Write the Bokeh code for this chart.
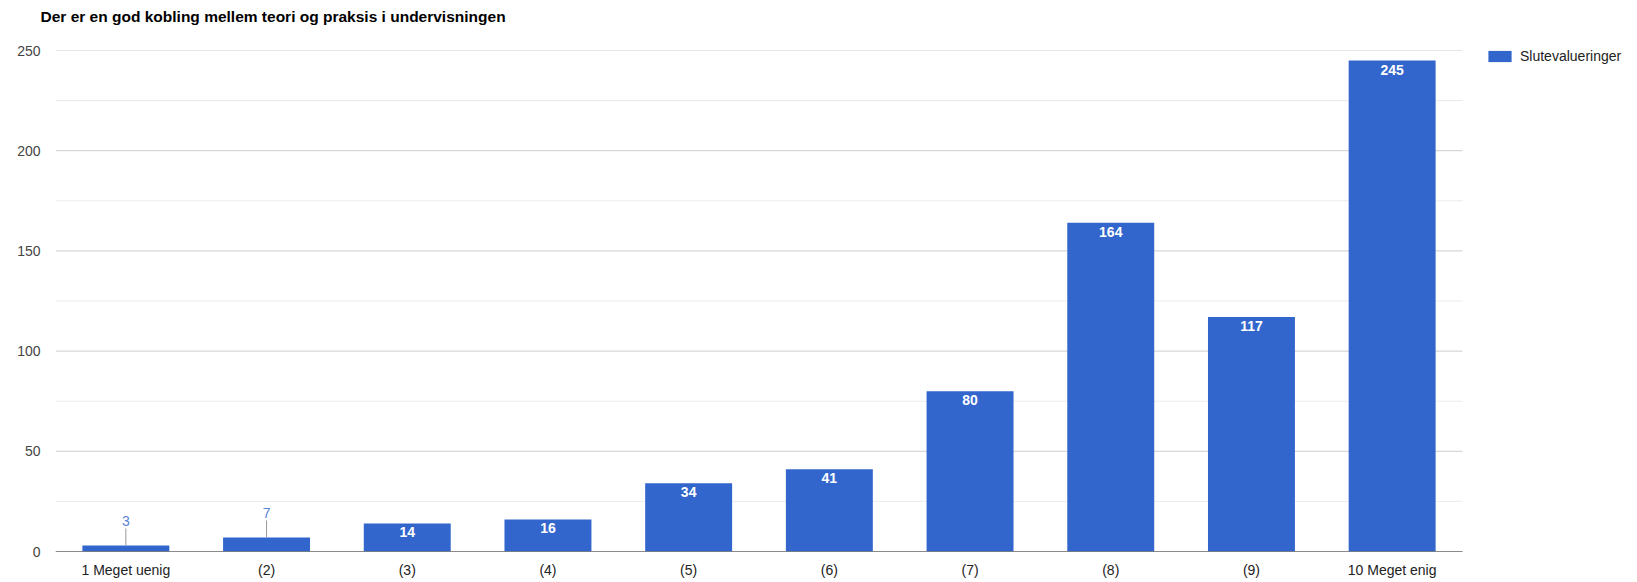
from bokeh.plotting import figure
from bokeh.models import Range1d, FixedTicker, ColumnDataSource, Legend, LegendItem, Title
from bokeh.core.properties import value
from bokeh.embed import file_html
from bokeh.resources import INLINE

# ---- data ----
categories = ["1 Meget uenig", "(2)", "(3)", "(4)", "(5)", "(6)", "(7)", "(8)", "(9)", "10 Meget enig"]
counts = [3, 7, 14, 16, 34, 41, 80, 164, 117, 245]
series_name = "Slutevalueringer"
y_ticks = [0, 50, 100, 150, 200, 250]
y_minor = [25, 75, 125, 175, 225]
title_text = "Der er en god kobling mellem teori og praksis i undervisningen"

FONT = "Liberation Sans"
BAR = "#3366cc"

W, H = 1637, 582
LEFT, BOTTOM, TOP = 55, 31, 50
PLOT_RIGHT = 1462          # where the category area ends (legend lives to its right)
n = len(categories)
x_end = n * (W - LEFT) / (PLOT_RIGHT - LEFT)
xs = [i + 0.5 for i in range(n)]

p = figure(
    title=None,
    x_range=Range1d(0, x_end),
    y_range=Range1d(0, 250),
    width=W, height=H,
    output_backend="svg", toolbar_location=None,
    min_border_left=LEFT, min_border_right=0, min_border_top=TOP, min_border_bottom=BOTTOM,
)
p.outline_line_color = None
p.background_fill_color = "white"
p.border_fill_color = "white"

# title (a thin spacer panel keeps it up near the top edge)
spacer = Title(text=" ", text_font_size="1px", standoff=21)
main_title = Title(text=title_text, text_font=FONT, text_font_size="15.5px", text_font_style="bold",
                   text_color="#000000", align="left", offset=-15, vertical_align="top", standoff=0)
p.add_layout(spacer, "above")
p.add_layout(main_title, "above")

# grid lines, limited to the category area
p.xgrid.grid_line_color = None
p.ygrid.grid_line_color = None
p.segment(x0=[0] * len(y_minor), y0=y_minor, x1=[n] * len(y_minor), y1=y_minor,
          line_color="#ebebeb", line_width=1)
p.segment(x0=[0] * len(y_ticks), y0=y_ticks, x1=[n] * len(y_ticks), y1=y_ticks,
          line_color="#cccccc", line_width=1)

src = ColumnDataSource(dict(x=xs, cat=categories, val=counts))
bars = p.vbar(x="x", top="val", width=0.618, source=src, fill_color=BAR, line_color=None)

# baseline
p.segment(x0=[0], y0=[0], x1=[n], y1=[0], line_color="#333333", line_width=1)

# axes
p.yaxis.ticker = FixedTicker(ticks=y_ticks)
p.yaxis.axis_line_color = None
p.yaxis.major_tick_line_color = None
p.yaxis.minor_tick_line_color = None
p.yaxis.major_tick_out = 0
p.yaxis.major_tick_in = 0
p.yaxis.minor_tick_out = 0
p.yaxis.major_label_standoff = 15
p.yaxis.major_label_text_font = FONT
p.yaxis.major_label_text_font_size = "14px"
p.yaxis.major_label_text_color = "#444444"

p.xaxis.ticker = FixedTicker(ticks=xs)
p.xaxis.major_label_overrides = {x: c for x, c in zip(xs, categories)}
p.xaxis.axis_line_color = None
p.xaxis.major_tick_line_color = None
p.xaxis.minor_tick_line_color = None
p.xaxis.major_tick_out = 0
p.xaxis.major_tick_in = 0
p.xaxis.minor_tick_out = 0
p.xaxis.major_label_standoff = 10
p.xaxis.major_label_text_font = FONT
p.xaxis.major_label_text_font_size = "14px"
p.xaxis.major_label_text_color = "#222222"

# value labels
threshold = 10
inside = ColumnDataSource(dict(
    x=[x for x, v in zip(xs, counts) if v >= threshold],
    val=[v for v in counts if v >= threshold],
    txt=[str(v) for v in counts if v >= threshold],
))
p.text(x="x", y="val", text="txt", source=inside, text_align="center", text_baseline="top",
       y_offset=4, text_color="white", text_font=value(FONT), text_font_size="14px",
       text_font_style="bold")

lead = 8.5
outside = ColumnDataSource(dict(
    x=[x for x, v in zip(xs, counts) if v < threshold],
    val=[v for v in counts if v < threshold],
    top=[v + lead for v in counts if v < threshold],
    txt=[str(v) for v in counts if v < threshold],
))
p.segment(x0="x", y0="val", x1="x", y1="top", source=outside, line_color="#999999", line_width=1)
p.text(x="x", y="top", text="txt", source=outside, text_align="center", text_baseline="bottom",
       y_offset=-2, text_color="#5a82d8", text_font=value(FONT), text_font_size="14px")

# legend
legend = Legend(items=[LegendItem(label=series_name, renderers=[bars])],
                location=(1485 - LEFT, (H - BOTTOM) - TOP - 14), orientation="vertical",
                glyph_width=29, glyph_height=14, label_height=14, label_standoff=6,
                padding=0, margin=0, spacing=0,
                label_text_font=FONT, label_text_font_size="14px", label_text_color="#222222",
                border_line_color=None, background_fill_alpha=0)
p.add_layout(legend, "center")

open("out.html", "w").write(file_html(p, INLINE))
